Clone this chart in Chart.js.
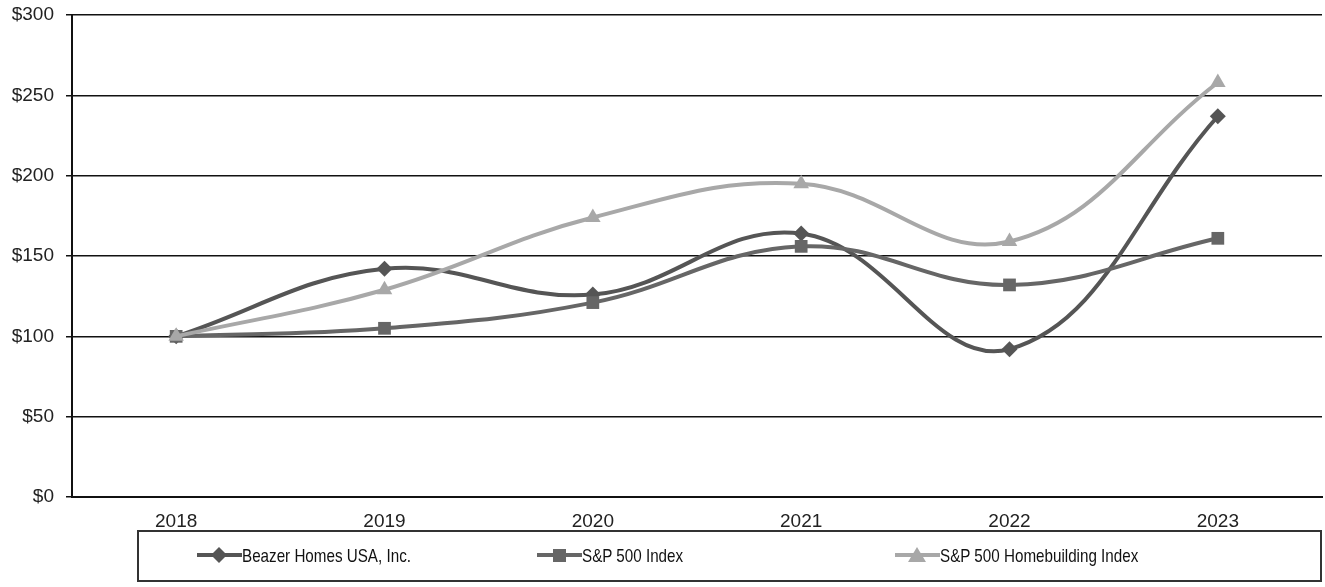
<!DOCTYPE html>
<html>
<head>
<meta charset="utf-8">
<script src="https://cdn.jsdelivr.net/npm/chart.js@4.4.1/dist/chart.umd.min.js"></script>
<style>
    html, body { margin: 0; padding: 0; background: #fff; }
    #wrap { position: relative; width: 1325px; height: 587px; }
    #legend {
        position: absolute; left: 137px; top: 530px; width: 1181px; height: 48px;
        border: 2px solid #333; font-family: "Liberation Sans", Arial, sans-serif;
        font-size: 19px; color: #111;
    }
    .item { position: absolute; top: 0; height: 48px; line-height: 48px; white-space: nowrap; }
    .item svg { vertical-align: middle; margin-top: -3px; }
    .item span { display: inline-block; transform: scaleX(0.8); transform-origin: left center; }
</style>
</head>
<body>
<div id="wrap">
    <canvas id="perf" width="1325" height="587"></canvas>
    <div id="legend"></div>
</div>
<script>
const years = ["2018", "2019", "2020", "2021", "2022", "2023"];
const beazer = [100, 142, 126, 164, 92, 237];
const sp500 = [100, 105, 121, 156, 132, 161];
const homebuilding = [100, 129, 174, 195, 159, 258];
const yTicks = [0, 50, 100, 150, 200, 250, 300];

const seriesNames = ["Beazer Homes USA, Inc.", "S&P 500 Index", "S&P 500 Homebuilding Index"];
const seriesColors = ["#555555", "#666666", "#a8a8a8"];
const seriesMarkers = ["rectRot", "rect", "triangle"];
const legendLeft = [58, 398, 756]; // posizione degli elementi della legenda

const tickFont = { family: "'Liberation Sans', Arial, sans-serif", size: 19 };

function makeDataset(i, values, radius) {
    return {
        label: seriesNames[i],
        data: values,
        borderColor: seriesColors[i],
        backgroundColor: seriesColors[i],
        borderWidth: 4,
        pointStyle: seriesMarkers[i],
        pointRadius: radius,
        pointBorderWidth: 0,
        tension: 0.4,
    };
}

const ctx = document.getElementById("perf").getContext("2d");
const perfChart = new Chart(ctx, {
    type: "line",
    data: {
        labels: years,
        datasets: [
            makeDataset(2, homebuilding, 9),
            makeDataset(1, sp500, 9),
            makeDataset(0, beazer, 8),
        ],
    },
    options: {
        responsive: false,
        animation: false,
        layout: { autoPadding: false, padding: { top: 15, right: 3, left: 0, bottom: 0 } },
        plugins: {
            legend: { display: false },
            tooltip: { enabled: false },
        },
        scales: {
            x: {
                offset: true,
                grid: { display: false },
                border: { color: "#111", width: 2 },
                ticks: {
                    color: "#222",
                    padding: 5,
                    font: tickFont,
                },
                afterFit: (scale) => {
                    scale.height = 90;
                    scale.paddingLeft = 0;
                    scale.paddingRight = 0;
                },
            },
            y: {
                min: 0,
                max: 300,
                afterBuildTicks: (scale) => { scale.ticks = yTicks.map((v) => ({ value: v })); },
                grid: { color: "#111", lineWidth: 1.5, tickLength: 6 },
                border: { color: "#111", width: 2 },
                ticks: {
                    color: "#222",
                    padding: 12,
                    font: tickFont,
                    callback: (v) => "$" + v,
                },
                afterFit: (scale) => {
                    scale.width = 72;
                    scale.paddingTop = 0;
                    scale.paddingBottom = 0;
                },
            },
        },
    },
});

// legenda con riquadro
function markerSvg(i) {
    const c = seriesColors[i];
    let shape = "";
    if (seriesMarkers[i] === "rectRot") {
        shape = `<polygon points="22,1 30,9 22,17 14,9" fill="${c}"/>`;
    } else if (seriesMarkers[i] === "rect") {
        shape = `<rect x="16" y="3" width="13" height="13" fill="${c}"/>`;
    } else {
        shape = `<polygon points="22,1 31,16 13,16" fill="${c}"/>`;
    }
    return `<svg width="45" height="18"><line x1="0" y1="9" x2="45" y2="9" stroke="${c}" stroke-width="4"/>${shape}</svg>`;
}

const legendEl = document.getElementById("legend");
seriesNames.forEach((name, i) => {
    const item = document.createElement("div");
    item.className = "item";
    item.style.left = legendLeft[i] + "px";
    item.innerHTML = markerSvg(i) + "<span></span>";
    item.querySelector("span").textContent = name;
    legendEl.appendChild(item);
});
</script>
</body>
</html>
